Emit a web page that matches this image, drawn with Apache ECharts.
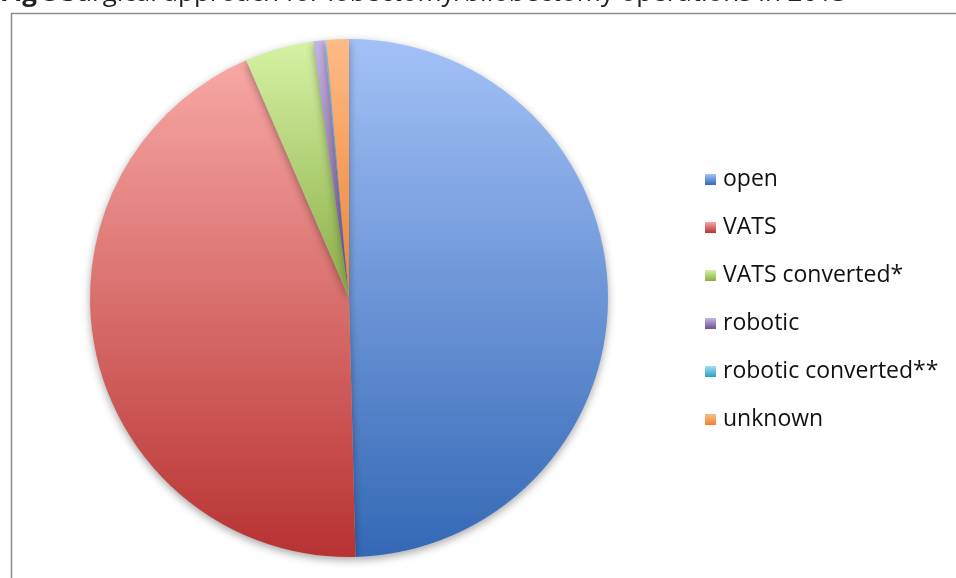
<!DOCTYPE html>
<html>
<head>
<meta charset="utf-8">
<script src="https://cdn.jsdelivr.net/npm/echarts@6/dist/echarts.min.js"></script>
<style>
    html, body { margin: 0; padding: 0; background: #fff; }
    #chart { width: 956px; height: 578px; }
</style>
</head>
<body>
<div id="chart"></div>
<script>
(function () {
    'use strict';

    // Share of lobectomy/bilobectomy operations by approach (%)
    var categories = ['open', 'VATS', 'VATS converted*', 'robotic', 'robotic converted**', 'unknown'];
    var shares = [49.6, 43.9, 4.3, 0.7, 0.1, 1.4];

    // Light (top) / dark (bottom) gradient stops per slice, Office 2010 style
    var lightColors = ['#a3c1f7', '#f7a8a5', '#d6f2a4', '#c6b4e4', '#9edff4', '#fdbb88'];
    var darkColors = ['#3468b6', '#b83232', '#89ad45', '#6e5196', '#2a9fc2', '#ee8230'];

    var FONT = '"Open Sans", Lato, sans-serif';

    function grad(i) {
        return new echarts.graphic.LinearGradient(0, 0, 0, 1, [
            { offset: 0, color: lightColors[i] },
            { offset: 1, color: darkColors[i] }
        ]);
    }

    var data = categories.map(function (name, i) {
        return { name: name, value: shares[i], itemStyle: { color: grad(i) } };
    });

    var chart = echarts.init(document.getElementById('chart'), null, { renderer: 'canvas' });

    chart.setOption({
        animation: false,
        graphic: [
            // chart area frame (only top and left edges are visible in the crop)
            {
                type: 'rect', left: 9, top: 11,
                shape: { width: 1000, height: 600 },
                style: { fill: 'none', stroke: '#8c8c8c', lineWidth: 1.5 }
            },
            // caption that sits above the frame, mostly clipped by the crop
            {
                type: 'text', left: 0, top: -19,
                style: {
                    rich: {
                        b: { fontWeight: 'bold', fontSize: 26, fontFamily: FONT, fill: '#222' },
                        n: { fontSize: 26, fontFamily: FONT, fill: '#222' }
                    },
                    text: '{b|Fig 5} {n|Surgical approach for lobectomy/bilobectomy operations in 2013}'
                }
            }
        ],
        legend: {
            orient: 'vertical',
            left: 700,
            top: 163,
            itemWidth: 11,
            itemHeight: 11,
            itemGap: 25,
            icon: 'rect',
            textStyle: { fontSize: 23, fontFamily: FONT, color: '#111', padding: [0, 0, 0, 2] },
            data: categories
        },
        series: [{
            type: 'pie',
            center: [349, 298],
            radius: 259,
            startAngle: 90,
            clockwise: true,
            label: { show: false },
            labelLine: { show: false },
            emphasis: { disabled: true },
            itemStyle: {
                shadowColor: 'rgba(0,0,0,0.35)',
                shadowBlur: 8,
                shadowOffsetY: 3
            },
            data: data
        }]
    });
})();
</script>
</body>
</html>
